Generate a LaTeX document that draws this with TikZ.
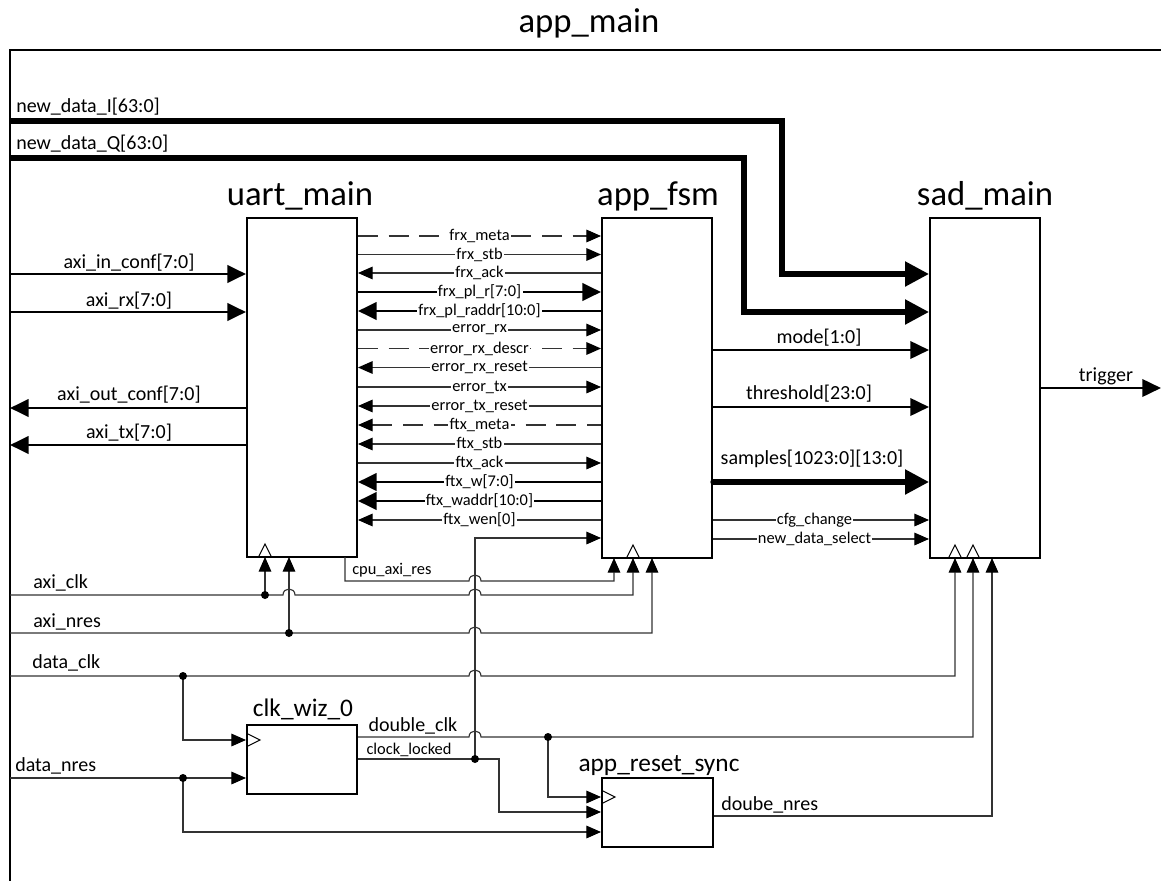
\documentclass[tikz,border=0pt]{standalone}
\usepackage{fontspec}
\setmainfont{Carlito}
\usetikzlibrary{arrows.meta,calc}
\newcommand\fbig{\fontsize{26pt}{30pt}\selectfont}
\newcommand\fmid{\fontsize{19pt}{22pt}\selectfont}
\newcommand\fsig{\fontsize{15pt}{18pt}\selectfont}
\newcommand\fsml{\fontsize{12.3pt}{14pt}\selectfont}
\begin{document}
\begin{tikzpicture}[x=0.75pt,y=-0.75pt,
  box/.style={draw, line width=1.5pt, inner sep=0pt, minimum width=82.5pt},
  wthin/.style={line width=0.85pt, draw=black!80},
  wbus/.style={line width=2.2pt, draw=black},
  wmed/.style={line width=2pt, draw=black},
  whuge/.style={line width=4pt, draw=black},
  tS/.style={-{Triangle[length=11pt,width=9.5pt,color=black]}},
  tSl/.style={{Triangle[length=11pt,width=9.5pt,color=black]}-},
  tM/.style={-{Triangle[length=14pt,width=13pt]}},
  tMl/.style={{Triangle[length=14pt,width=13pt]}-},
  tL/.style={-{Triangle[length=18pt,width=18pt]}},
  dR/.style={wthin, dash pattern=on 15pt off 8pt, tS},
  dL/.style={wthin, dash pattern=on 15pt off 8pt, tSl},
  sR/.style={wthin, tS},
  sL/.style={wthin, tSl},
  bR/.style={wbus, tM},
  bL/.style={wbus, tMl},
  midlbl/.style={font=\fsml, fill=white, inner sep=1pt},
  slbl/.style={font=\fsig, inner sep=0pt},
  clk/.style={line width=0.8pt, draw=black},
  dot/.style={fill=black}
]
\useasboundingbox (0,0) rectangle (1161,881);

% frame and titles
\draw[line width=1.5pt] (1161,50) -- (10,50) -- (10,881);
\node[font=\fbig, anchor=base] (tmain) at (589,33) {app\_main};

% blocks
\node[box, minimum height=254.25pt] (uart) at (302,387.5) {};
\node[box, minimum height=255pt] (fsm) at (657,388) {};
\node[box, minimum height=255pt] (sad) at (985,388) {};
\node[box, minimum height=51.75pt] (wiz) at (302,759.5) {};
\node[box, minimum height=51.75pt, minimum width=83.25pt] (rst) at (657.5,812.5) {};

\node[font=\fbig, anchor=base] (tuart) at (300,205) {uart\_main};
\node[font=\fbig, anchor=base] (tfsm) at (658,205) {app\_fsm};
\node[font=\fbig, anchor=base] (tsad) at (985,205) {sad\_main};
\node[font=\fmid, anchor=base] (twiz) at (303,716) {clk\_wiz\_0};
\node[font=\fmid, anchor=base] (trst) at (659,771) {app\_reset\_sync};

% clock triangles
\draw[clk] (258.5,557) -- (265,544) -- (271.5,557);
\draw[clk] (626.5,558) -- (633,545) -- (639.5,558);
\draw[clk] (948.5,558) -- (955,545) -- (961.5,558);
\draw[clk] (966.5,558) -- (973,545) -- (979.5,558);
\draw[clk] (247,733.5) -- (260,740) -- (247,746.5);
\draw[clk] (602,790.5) -- (615,797) -- (602,803.5);

% new_data buses
\coordinate (ndI) at (10,121);
\coordinate (ndIb) at (782,274);
\coordinate (ndQ) at (10,158);
\coordinate (ndQb) at (744,312);
\draw[whuge, tL] (ndI) -| (ndIb) -- (sad.west |- ndIb);
\draw[whuge, tL] (ndQ) -| (ndQb) -- (sad.west |- ndQb);
\node[slbl, anchor=base west] (lI) at (16,113) {new\_data\_I[63:0]};
\node[slbl, anchor=base west] (lQ) at (16,150) {new\_data\_Q[63:0]};

% left buses
\coordinate (ain) at (10,274);
\coordinate (arx) at (10,312);
\coordinate (aoc) at (10,408);
\coordinate (atx) at (10,445);
\draw[bR] (ain) -- (uart.west |- ain);
\draw[bR] (arx) -- (uart.west |- arx);
\draw[bR] (uart.west |- aoc) -- (aoc);
\draw[bR] (uart.west |- atx) -- (atx);
\node[slbl, anchor=base] (lain) at (129,268) {axi\_in\_conf[7:0]};
\node[slbl, anchor=base] (larx) at (129,306) {axi\_rx[7:0]};
\node[slbl, anchor=base] (laoc) at (129,400) {axi\_out\_conf[7:0]};
\node[slbl, anchor=base] (latx) at (129,438) {axi\_tx[7:0]};

% uart <-> fsm signals
\foreach \y/\t/\st in {
  236/{frx\_meta}/dR, 254.5/{frx\_stb}/sR, 273/{frx\_ack}/sL,
  292/{frx\_pl\_r[7:0]}/bR, 311/{frx\_pl\_raddr[10:0]}/bL,
  330/{error\_rx}/sR, 348.5/{error\_rx\_descr}/dR, 367.5/{error\_rx\_reset}/sL,
  387/{error\_tx}/sR, 406/{error\_tx\_reset}/sL, 425/{ftx\_meta}/dL,
  444/{ftx\_stb}/sL, 463/{ftx\_ack}/sR, 482/{ftx\_w[7:0]}/bL,
  501/{ftx\_waddr[10:0]}/bL, 520/{ftx\_wen[0]}/sL}{
  \path (0,\y) coordinate (rw);
  \draw[\st] (uart.east |- rw) -- node[midlbl] (m\y) {\t} (fsm.west |- rw);
}

% fsm -> sad
\coordinate (ymode) at (0,350);
\coordinate (ythr) at (0,407);
\coordinate (ysmp) at (0,482);
\coordinate (ycfg) at (0,520);
\coordinate (ynds) at (0,539);
\draw[wmed, tM] (fsm.east |- ymode) -- (sad.west |- ymode);
\draw[wmed, tM] (fsm.east |- ythr) -- (sad.west |- ythr);
\draw[whuge, line cap=round, tL] (fsm.east |- ysmp) -- (sad.west |- ysmp);
\draw[sR] (fsm.east |- ycfg) -- node[midlbl, pos=0.47] (lcfg) {cfg\_change} (sad.west |- ycfg);
\draw[sR] (fsm.east |- ynds) -- node[midlbl, pos=0.47] (lnds) {new\_data\_select} (sad.west |- ynds);
\node[slbl, anchor=base] (lmode) at (819,343) {mode[1:0]};
\node[slbl, anchor=base] (lthr) at (809,399) {threshold[23:0]};
\node[slbl, anchor=base] (lsmp) at (812,464) {samples[1023:0][13:0]};

% trigger
\coordinate (trg) at (1161,388);
\draw[wmed, tM] (sad.east |- trg) -- (trg);
\node[slbl, anchor=base] (ltrg) at (1106,381) {trigger};

% bottom wiring
\coordinate (aclk) at (10,595);
\coordinate (anres) at (10,633);
\coordinate (dclk) at (10,676);
\coordinate (dnres) at (10,778);
\coordinate (j1) at (265,595);
\coordinate (j2) at (289,633);
\coordinate (j3) at (183,676);
\coordinate (j4) at (183,778);
\coordinate (j5) at (475,759);
\coordinate (j6) at (548,737);
\coordinate (cpuo) at (345,557);
\coordinate (fin1) at (614,558);
\coordinate (fin2) at (633,558);
\coordinate (fin3) at (652,558);
\coordinate (sin1) at (955,558);
\coordinate (sin2) at (973,558);
\coordinate (sin3) at (992,558);
\coordinate (ycl) at (0,538);
\coordinate (ywc) at (0,740);
\coordinate (yr1) at (0,797);
\coordinate (yr2) at (0,812);
\coordinate (yr3) at (0,832);
\coordinate (ydn) at (0,816);

% axi_clk
\draw[sR] (aclk) -- (283,595) .. controls (283,587) and (295,587) .. (295,595)
  -- (469,595) .. controls (469,587) and (481,587) .. (481,595) -| (fin2);
\draw[sR] (j1) -- (265,557);
% axi_nres
\draw[sR] (anres) -- (469,633) .. controls (469,625) and (481,625) .. (481,633) -| (fin3);
\draw[sR] (j2) -- (289,557);
% cpu_axi_res
\draw[sR] (cpuo) |- (469,581) .. controls (469,573) and (481,573) .. (481,581) -| (fin1);
\node[font=\fsml, anchor=base west, inner sep=0pt] (lcpu) at (352,574) {cpu\_axi\_res};
% data_clk
\draw[sR] (dclk) -- (469,676) .. controls (469,668) and (481,668) .. (481,676) -| (sin1);
\draw[sR] (j3) |- (wiz.west |- ywc);
% data_nres
\draw[sR] (dnres) -- (wiz.west |- dnres);
\draw[sR] (j4) |- (rst.west |- yr3);
% double_clk
\draw[sR] (wiz.east |- j6) -- (469,737) .. controls (469,729) and (481,729) .. (481,737) -| (sin2);
\draw[sR] (j6) |- (rst.west |- yr1);
% clock_locked
\draw[wthin] (wiz.east |- j5) -- (j5);
\draw[sR] (j5) |- (fsm.west |- ycl);
\draw[sR] (j5) -| (499,812) -- (rst.west |- yr2);
% doube_nres
\draw[sR] (rst.east |- ydn) -| (sin3);

\foreach \j in {j1,j2,j3,j4,j5,j6} { \fill[dot] (\j) circle (3pt); }

\node[slbl, anchor=base west] (laclk) at (33,588) {axi\_clk};
\node[slbl, anchor=base west] (lanres) at (33,627) {axi\_nres};
\node[slbl, anchor=base west] (ldclk) at (32,668) {data\_clk};
\node[slbl, anchor=base west] (ldnres) at (15,771) {data\_nres};
\node[slbl, anchor=base] (ldbl) at (413,731) {double\_clk};
\node[font=\fsml, anchor=base, inner sep=0pt] (llck) at (409,754) {clock\_locked};
\node[slbl, anchor=base west] (ldn) at (721,810) {doube\_nres};
\end{tikzpicture}
\end{document}
